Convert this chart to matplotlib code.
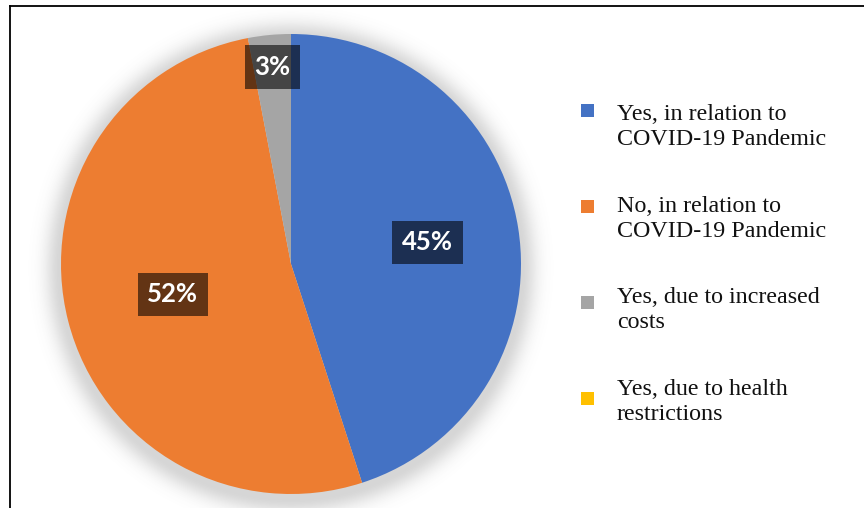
import matplotlib.pyplot as plt
import numpy as np
from matplotlib.patches import Rectangle
from matplotlib.lines import Line2D

# survey answers, clockwise from 12 o'clock
labels = ["Yes, in relation to\nCOVID-19 Pandemic",
          "No, in relation to\nCOVID-19 Pandemic",
          "Yes, due to increased\ncosts",
          "Yes, due to health\nrestrictions"]
values = [45, 52, 3, 0]
colors = ["#4472C4", "#ED7D31", "#A5A5A5", "#FFC000"]
label_dist = [0.60, 0.53, 0.86, 0.0]   # how far out each % box sits

W, H = 864, 508
fig = plt.figure(figsize=(W / 100, H / 100), dpi=100)
ax = fig.add_axes([0, 0, 1, 1])

cx, cy, R = 291, H - 264, 230

# soft drop shadow behind the pie
xx, yy = np.meshgrid(np.arange(W) + 0.5, np.arange(H) + 0.5)
d = np.hypot(xx - cx, yy - (cy - 4))
a = np.where(d < R, 0.25, 0.25 * np.exp(-((d - R) / 16.0) ** 2))
shadow = np.zeros((H, W, 4))
shadow[..., :3] = 0.35
shadow[..., 3] = a
ax.imshow(shadow, extent=(0, W, 0, H), origin="lower", zorder=0)

wedges, _ = ax.pie(values, colors=colors, startangle=90, counterclock=False,
                   center=(cx, cy), radius=R, frame=True)
for w in wedges:
    w.set_zorder(1)
ax.set_xlim(0, W)
ax.set_ylim(0, H)
ax.set_aspect("equal")
ax.axis("off")

# percentage boxes
for w, v, dist in zip(wedges, values, label_dist):
    if v == 0:
        continue
    mid = np.deg2rad((w.theta1 + w.theta2) / 2)
    x = cx + dist * R * np.cos(mid)
    y = cy + dist * R * np.sin(mid)
    ax.text(x, y, f"{v}%", ha="center", va="center", color="white",
            fontsize=18.5, fontweight="bold", family="Lato", zorder=3,
            bbox=dict(boxstyle="square,pad=0.38", fc="black", ec="none", alpha=0.58))

# legend drawn by hand
for i, (lab, col) in enumerate(zip(labels, colors)):
    my = 110.7 + 96 * i
    fig.add_artist(Rectangle((581 / W, 1 - (my + 6.5) / H), 13 / W, 13 / H,
                             transform=fig.transFigure, fc=col, ec="none"))
    ty = 104 + 91.7 * i
    fig.text(617 / W, 1 - ty / H, lab, ha="left", va="top", fontsize=17.3,
             family="Liberation Serif", linespacing=1.24, color="#111111")

# outer frame (left and top edges only)
fig.add_artist(Line2D([9.5 / W, 9.5 / W], [0, 1 - 6 / H], transform=fig.transFigure,
                      color="black", lw=1.3))
fig.add_artist(Line2D([9.5 / W, 1], [1 - 6 / H, 1 - 6 / H], transform=fig.transFigure,
                      color="black", lw=1.3))

fig.savefig("out.png", dpi=100)
